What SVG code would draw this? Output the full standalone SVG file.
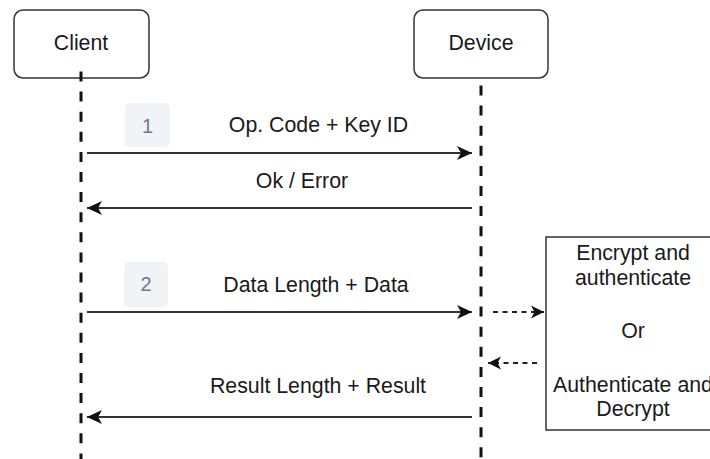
<svg xmlns="http://www.w3.org/2000/svg" width="710" height="459" viewBox="0 0 710 459">
  <style>
    .actor { fill: #ffffff; stroke: #333333; stroke-width: 1.5; }
    .lifeline { fill: none; stroke: #111111; stroke-width: 3; stroke-dasharray: 10 10.1; }
    .msg { fill: none; stroke: #333333; stroke-width: 2; }
    .msg-dash { fill: none; stroke: #222222; stroke-width: 2; stroke-dasharray: 5 4.5; }
    .label { font-family: "Liberation Sans", Arial, sans-serif; font-size: 21.3px; fill: #1a1a1a; text-anchor: middle; }
    .badge { fill: #f1f3f6; stroke: none; }
    .badge-text { font-family: "Liberation Sans", Arial, sans-serif; font-size: 20px; fill: #6c7a93; text-anchor: middle; }
    .process { fill: #ffffff; stroke: #333333; stroke-width: 1.5; }
  </style>
  <defs>
    <marker id="arrow" markerUnits="userSpaceOnUse" markerWidth="16" markerHeight="15" refX="15" refY="7" orient="auto" overflow="visible">
      <path d="M0,0 L15,7 L0,14 L4,7 Z" fill="#111111"/>
    </marker>
    <marker id="arrow-small" markerUnits="userSpaceOnUse" markerWidth="14" markerHeight="14" refX="13" refY="6.5" orient="auto" overflow="visible">
      <path d="M0,0 L13,6.5 L0,13 L3.5,6.5 Z" fill="#111111"/>
    </marker>
  </defs>

  <rect width="710" height="459" fill="#ffffff"/>

  <!-- participants -->
  <g id="client">
    <rect class="actor" x="14" y="10" width="135" height="68" rx="9"/>
    <text class="label" x="81" y="50">Client</text>
  </g>
  <g id="device">
    <rect class="actor" x="414" y="10" width="134" height="68" rx="9"/>
    <text class="label" x="481" y="50">Device</text>
  </g>

  <!-- crypto operation box (runs past the right edge of the canvas) -->
  <g id="crypto-op">
    <rect class="process" x="546" y="237" width="176" height="193"/>
    <text class="label" x="633" y="260">Encrypt and</text>
    <text class="label" x="633" y="285">authenticate</text>
    <text class="label" x="633" y="338">Or</text>
    <text class="label" x="633" y="392">Authenticate and</text>
    <text class="label" x="633" y="416">Decrypt</text>
  </g>

  <!-- step badges -->
  <g id="step-1">
    <rect class="badge" x="125" y="103" width="45" height="44" rx="5"/>
    <text class="badge-text" x="147.5" y="132.5">1</text>
  </g>
  <g id="step-2">
    <rect class="badge" x="124" y="262" width="44" height="45" rx="5"/>
    <text class="badge-text" x="146" y="291">2</text>
  </g>

  <!-- lifelines and messages -->
  <g id="connectors">
    <line class="lifeline" x1="81" y1="71.5" x2="81" y2="459"/>
    <line class="lifeline" x1="481" y1="85.5" x2="481" y2="459"/>

    <line class="msg" x1="87" y1="153" x2="472" y2="153" marker-end="url(#arrow)"/>
    <line class="msg" x1="472" y1="208" x2="87" y2="208" marker-end="url(#arrow)"/>
    <line class="msg" x1="87" y1="312" x2="472" y2="312" marker-end="url(#arrow)"/>
    <line class="msg" x1="472" y1="417" x2="87" y2="417" marker-end="url(#arrow)"/>

    <line class="msg-dash" x1="493" y1="312" x2="544" y2="312" marker-end="url(#arrow-small)"/>
    <line class="msg-dash" x1="537" y1="363" x2="488" y2="363" marker-end="url(#arrow-small)"/>
  </g>

  <!-- message labels -->
  <g id="labels">
    <text class="label" x="318.5" y="132">Op. Code + Key ID</text>
    <text class="label" x="302" y="188">Ok / Error</text>
    <text class="label" x="316" y="291.5">Data Length + Data</text>
    <text class="label" x="318" y="393">Result Length + Result</text>
  </g>
</svg>
